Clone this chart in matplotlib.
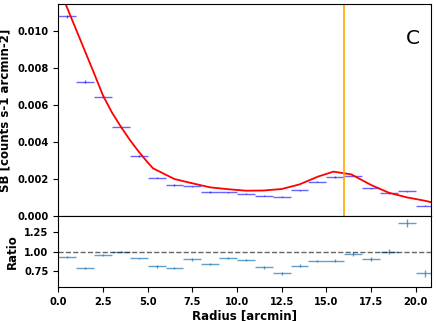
import numpy as np
import matplotlib
matplotlib.use("Agg")
import matplotlib.pyplot as plt

# surface brightness profile, 1 arcmin bins
r_bins = [0.5, 1.5, 2.5, 3.5, 4.5, 5.5, 6.5, 7.5, 8.5, 9.5, 10.5,
          11.5, 12.5, 13.5, 14.5, 15.5, 16.5, 17.5, 18.5, 19.5, 20.5]
r_halfwidth = [0.5] * 21
sb = [0.0108, 0.00727, 0.00645, 0.0048, 0.00324, 0.00207, 0.00169,
      0.0016, 0.0013, 0.00128, 0.0012, 0.0011, 0.00105, 0.0014,
      0.00186, 0.00211, 0.00218, 0.0015, 0.00123, 0.00134, 0.00056]
sb_err = [0.00009, 0.00007, 0.00007, 0.00005, 0.00005, 0.00004, 0.00004,
          0.00003, 0.00003, 0.00003, 0.00003, 0.00003, 0.00003, 0.00003,
          0.00003, 0.00003, 0.00003, 0.00003, 0.00003, 0.00003, 0.00003]

# model curve
r_model = [0.0, 1.0, 2.0, 2.5, 3.0, 3.5, 4.0, 4.5, 5.0, 5.3, 6.5, 7.5,
           8.5, 9.5, 10.5, 11.5, 12.5, 13.5, 14.5, 15.4, 16.4, 17.5, 18.5,
           19.5, 20.5, 21.0]
sb_model = [0.01242, 0.01007, 0.00772, 0.00652, 0.00560, 0.00483, 0.00412,
            0.00348, 0.00290, 0.00258, 0.00200, 0.00177, 0.00155, 0.00145,
            0.00137, 0.00138, 0.00146, 0.00171, 0.00212, 0.0024, 0.00225,
            0.00168, 0.00126, 0.00101, 0.00083, 0.00072]

ratio = [0.928, 0.79, 0.958, 1.0, 0.915, 0.81, 0.79, 0.90, 0.84, 0.92,
         0.894, 0.80, 0.72, 0.82, 0.877, 0.885, 0.97, 0.906, 1.0, 1.37, 0.72]
ratio_err = [0.01, 0.01, 0.01, 0.01, 0.01, 0.015, 0.015, 0.015, 0.015,
             0.015, 0.015, 0.02, 0.02, 0.02, 0.015, 0.015, 0.02, 0.02,
             0.03, 0.05, 0.05]

r_mark = 16.0

plt.rcParams["font.weight"] = "bold"
plt.rcParams["axes.labelweight"] = "bold"
plt.rcParams["font.size"] = 7.1

fig = plt.figure(figsize=(4.36, 3.21), dpi=100)
ax = fig.add_axes([0.1337, 0.327, 0.8553, 0.6605])
ax2 = fig.add_axes([0.1337, 0.106, 0.8553, 0.221], sharex=ax)

ax.errorbar(r_bins, sb, xerr=r_halfwidth, yerr=sb_err, fmt="none",
            ecolor="b", elinewidth=1, alpha=0.6)
ax.plot(r_model, sb_model, "r", lw=1.3)
ax.axvline(r_mark, color="orange", lw=1.2)
ax.set_ylim(0, 0.01146)
ax.set_xlim(0, 20.87)
ax.set_yticks([0.0, 0.002, 0.004, 0.006, 0.008, 0.010])
ax.set_ylabel("SB [counts s-1 arcmin-2]", fontsize=8.5)
ax.tick_params(labelbottom=False)
ax.text(0.952, 0.838, "C", transform=ax.transAxes, ha="center",
        va="center", fontsize=14.5, fontweight="normal")

ax2.errorbar(r_bins, ratio, xerr=r_halfwidth, yerr=ratio_err, fmt="none",
             ecolor="C0", elinewidth=1, alpha=0.7)
ax2.axhline(1.0, color="k", ls="--", lw=1, alpha=0.6)
ax2.set_ylim(0.547, 1.457)
ax2.set_yticks([0.75, 1.00, 1.25])
ax2.set_xticks([0.0, 2.5, 5.0, 7.5, 10.0, 12.5, 15.0, 17.5, 20.0])
ax2.set_ylabel("Ratio", fontsize=8.5)
ax2.set_xlabel("Radius [arcmin]", fontsize=8.5, labelpad=2)

fig.savefig("out.png", dpi=100)
